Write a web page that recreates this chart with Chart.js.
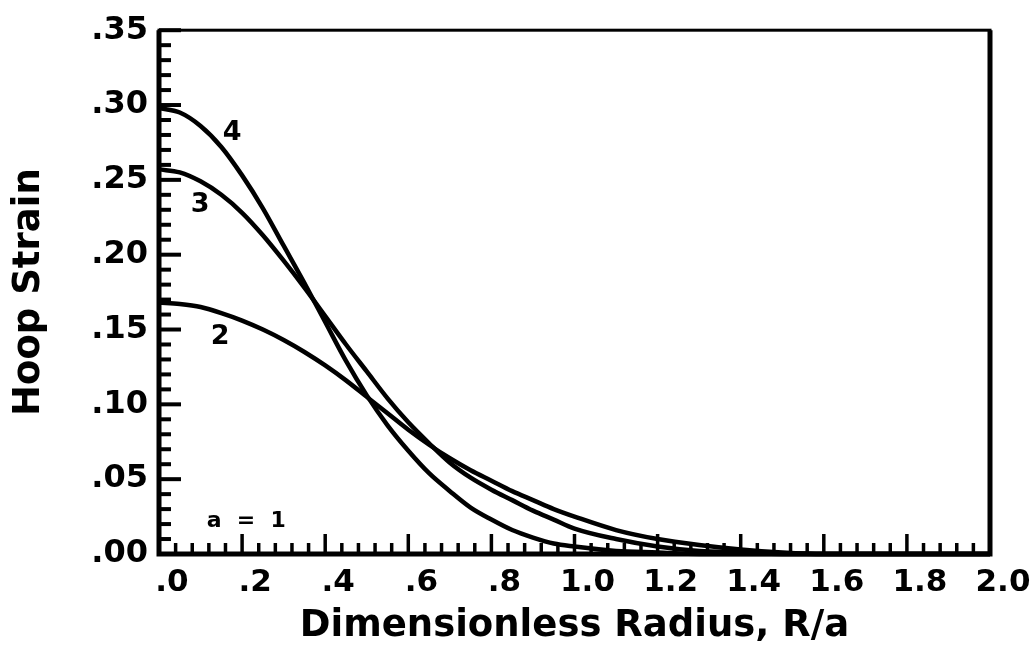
<!DOCTYPE html>
<html>
<head>
<meta charset="utf-8">
<script src="https://cdn.jsdelivr.net/npm/chart.js@4.4.1/dist/chart.umd.min.js"></script>
<style>
  html, body { margin: 0; padding: 0; background: #fff; }
  #wrap { width: 1036px; height: 658px; }
</style>
</head>
<body>
<div id="wrap"><canvas id="hoopChart"></canvas></div>
<script>
// dimensionless radius R/a
const radius = [0, 0.05, 0.1, 0.15, 0.2, 0.25, 0.3, 0.35, 0.4, 0.45, 0.5, 0.55, 0.6, 0.65, 0.7, 0.75,
	0.8, 0.85, 0.9, 0.95, 1.0, 1.1, 1.2, 1.3, 1.4, 1.5, 1.6, 1.7, 1.8, 1.9, 2.0];

// hoop strain, curves 2, 3 and 4
const strain2 = [0.168, 0.167, 0.165, 0.161, 0.156, 0.150, 0.143, 0.135, 0.126, 0.116, 0.105, 0.094,
	0.083, 0.073, 0.064, 0.056, 0.049, 0.042, 0.036, 0.030, 0.025, 0.016, 0.010, 0.006, 0.003, 0.001,
	0, 0, 0, 0, 0];
const strain3 = [0.257, 0.255, 0.249, 0.240, 0.228, 0.213, 0.196, 0.178, 0.159, 0.140, 0.122, 0.104,
	0.088, 0.074, 0.061, 0.051, 0.043, 0.036, 0.029, 0.023, 0.017, 0.010, 0.005, 0.002, 0.001, 0,
	0, 0, 0, 0, 0];
const strain4 = [0.298, 0.295, 0.286, 0.272, 0.253, 0.231, 0.206, 0.181, 0.155, 0.129, 0.106, 0.086,
	0.069, 0.054, 0.042, 0.031, 0.023, 0.016, 0.011, 0.007, 0.005, 0.002, 0.001, 0, 0, 0,
	0, 0, 0, 0, 0];

const xTicks = [0, 0.2, 0.4, 0.6, 0.8, 1.0, 1.2, 1.4, 1.6, 1.8, 2.0];
const xTickLabels = ['.0', '.2', '.4', '.6', '.8', '1.0', '1.2', '1.4', '1.6', '1.8', '2.0'];
const yTicks = [0, 0.05, 0.10, 0.15, 0.20, 0.25, 0.30, 0.35];
const yTickLabels = ['.00', '.05', '.10', '.15', '.20', '.25', '.30', '.35'];

// minor tick counts between the major ones
const xMinorPerMajor = 5;
const yMinorPerMajor = 5;

// curve labels, in data units
const curveLabels = [
	{ text: '4', x: 0.176, y: 0.281 },
	{ text: '3', x: 0.099, y: 0.233 },
	{ text: '2', x: 0.147, y: 0.145 }
];
const noteLabel = { text: 'a  =  1', x: 0.21, y: 0.022 };

const FONT = 'DejaVu Sans';

// box around the plot and the inward tick marks
const framePlugin = {
	id: 'frame',
	afterDraw(chart) {
		const ctx = chart.ctx;
		const a = chart.chartArea;
		const xs = chart.scales.x;
		const ys = chart.scales.y;
		ctx.save();
		ctx.strokeStyle = '#000';
		ctx.lineCap = 'butt';

		// y ticks
		ctx.lineWidth = 4;
		const yStep = (yTicks[1] - yTicks[0]) / yMinorPerMajor;
		const yCount = (yTicks.length - 1) * yMinorPerMajor;
		for (let i = 0; i <= yCount; i++) {
			const py = ys.getPixelForValue(i * yStep);
			const len = i % yMinorPerMajor === 0 ? 22 : 12;
			ctx.beginPath();
			ctx.moveTo(a.left, py);
			ctx.lineTo(a.left + len, py);
			ctx.stroke();
		}

		// x ticks
		ctx.lineWidth = 3.5;
		const xStep = (xTicks[1] - xTicks[0]) / xMinorPerMajor;
		const xCount = (xTicks.length - 1) * xMinorPerMajor;
		for (let i = 0; i <= xCount; i++) {
			const px = xs.getPixelForValue(i * xStep);
			const len = i % xMinorPerMajor === 0 ? 20 : 11;
			ctx.beginPath();
			ctx.moveTo(px, a.bottom);
			ctx.lineTo(px, a.bottom - len);
			ctx.stroke();
		}

		// frame
		ctx.lineWidth = 3;
		ctx.strokeRect(a.left, a.top, a.right - a.left, a.bottom - a.top);
		ctx.lineWidth = 5;
		ctx.beginPath();
		ctx.moveTo(a.left, a.top);
		ctx.lineTo(a.left, a.bottom);
		ctx.lineTo(a.right, a.bottom);
		ctx.lineTo(a.right, a.top);
		ctx.stroke();

		// labels on the curves
		ctx.fillStyle = '#000';
		ctx.textAlign = 'center';
		ctx.textBaseline = 'middle';
		ctx.font = 'bold 27px "' + FONT + '"';
		curveLabels.forEach(function(l) {
			ctx.fillText(l.text, xs.getPixelForValue(l.x), ys.getPixelForValue(l.y));
		});
		ctx.font = 'bold 22px "' + FONT + '"';
		ctx.fillText(noteLabel.text, xs.getPixelForValue(noteLabel.x), ys.getPixelForValue(noteLabel.y));
		ctx.restore();
	}
};

function series(values) {
	return values.map(function(v, i) { return { x: radius[i], y: v }; });
}

function lineSet(label, values) {
	return {
		label: label,
		data: series(values),
		borderColor: '#000',
		borderWidth: 4.5,
		pointRadius: 0,
		fill: false,
		cubicInterpolationMode: 'monotone',
		clip: false
	};
}

document.addEventListener('DOMContentLoaded', function() {
	const ctx = document.getElementById('hoopChart').getContext('2d');

	const config = {
		type: 'line',
		data: {
			datasets: [
				lineSet('2', strain2),
				lineSet('3', strain3),
				lineSet('4', strain4)
			]
		},
		options: {
			responsive: true,
			maintainAspectRatio: false,
			animation: false,
			layout: {
				padding: { top: 22, right: 46, left: 0, bottom: 0 }
			},
			plugins: {
				legend: { display: false },
				tooltip: { enabled: false }
			},
			scales: {
				x: {
					type: 'linear',
					min: 0,
					max: 2,
					afterBuildTicks: function(scale) {
						scale.ticks = xTicks.map(function(v) { return { value: v }; });
					},
					afterFit: function(scale) { scale.height = 104; },
					grid: { display: false, drawTicks: false },
					border: { display: false },
					ticks: {
						color: '#000',
						autoSkip: false,
						maxRotation: 0,
						padding: 10,
						labelOffset: 13,
						font: { family: FONT, size: 31, weight: 'bold' },
						callback: function(value, index) { return xTickLabels[index]; }
					},
					title: {
						display: true,
						text: 'Dimensionless Radius, R/a',
						color: '#000',
						font: { family: FONT, size: 37, weight: 'bold' },
						padding: { top: 0, bottom: 9 }
					}
				},
				y: {
					type: 'linear',
					min: 0,
					max: 0.35,
					afterBuildTicks: function(scale) {
						scale.ticks = yTicks.map(function(v) { return { value: v }; });
					},
					afterFit: function(scale) { scale.width = 159; },
					grid: { display: false, drawTicks: false },
					border: { display: false },
					ticks: {
						color: '#000',
						autoSkip: false,
						padding: 11,
						font: { family: FONT, size: 32, weight: 'bold' },
						callback: function(value, index) { return yTickLabels[index]; }
					},
					title: {
						display: true,
						text: 'Hoop Strain',
						color: '#000',
						font: { family: FONT, size: 37, weight: 'bold' },
						padding: { top: 7, bottom: 0 }
					}
				}
			}
		},
		plugins: [framePlugin]
	};

	new Chart(ctx, config);
});
</script>
</body>
</html>
